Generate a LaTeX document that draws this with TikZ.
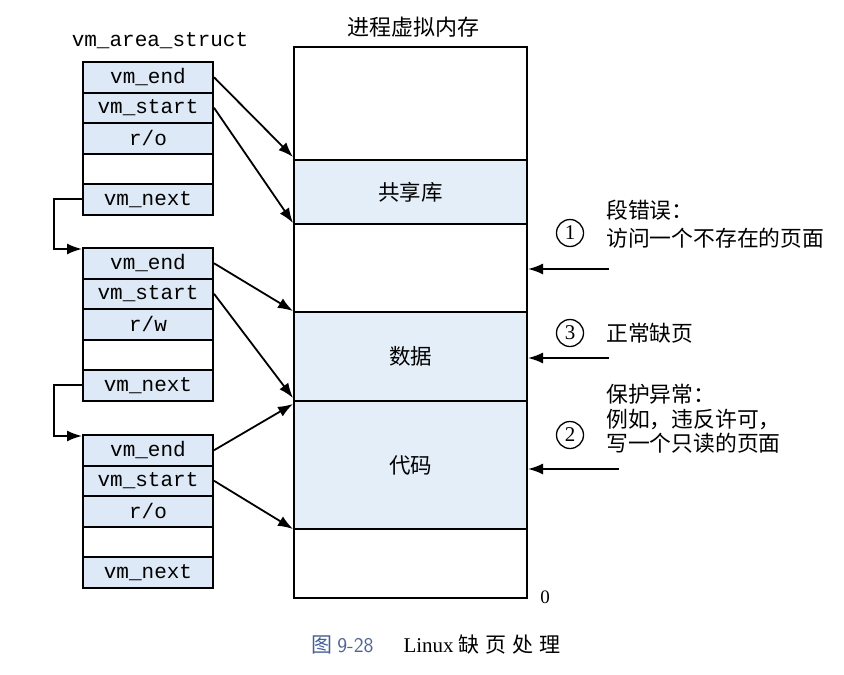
\documentclass[tikz,border=0pt]{standalone}
\usepackage{fontspec}
\setmainfont{Liberation Serif}
\newfontfamily\cjk{Noto Sans CJK SC}
\newfontfamily\mono{Liberation Mono}
\usetikzlibrary{arrows.meta}
\definecolor{rowblue}{RGB}{221,233,246}
\definecolor{memblue}{RGB}{228,238,249}
\definecolor{capblue}{RGB}{70,95,150}
\begin{document}
\begin{tikzpicture}[x=1pt,y=-1pt,
  cell/.style={draw, line width=2pt, minimum width=130pt, minimum height=30.5pt, inner sep=0pt, fill=rowblue, font=\mono\fontsize{21}{24}\selectfont},
  blank/.style={cell, fill=white},
  memsec/.style={draw, line width=2pt, minimum width=233pt, inner sep=0pt, font=\cjk\fontsize{21.5}{24}\selectfont},
  conn/.style={-{Latex[length=15pt,width=11pt]}, line width=1.8pt},
  num/.style={circle, draw, line width=1.3pt, minimum size=27pt, inner sep=0pt, font=\fontsize{21}{24}\selectfont},
  note/.style={anchor=north west, align=left, inner sep=0pt, font=\cjk\fontsize{21.8}{28}\selectfont}
]
\useasboundingbox (0,0) rectangle (844,675);

% labels
\node[font=\mono\fontsize{21}{24}\selectfont] (lbl) at (160,41) {vm\_area\_struct};
\node[font=\cjk\fontsize{22}{24}\selectfont] (title) at (413,27) {进程虚拟内存};

% struct 1
\node[cell] (a1) at (148,77.25) {vm\_end};
\node[cell] (a2) at (148,107.75) {vm\_start};
\node[cell] (a3) at (148,138.25) {r/o};
\node[blank] (a4) at (148,168.75) {};
\node[cell] (a5) at (148,199.25) {vm\_next};
% struct 2
\node[cell] (b1) at (148,263.25) {vm\_end};
\node[cell] (b2) at (148,293.75) {vm\_start};
\node[cell] (b3) at (148,324.25) {r/w};
\node[blank] (b4) at (148,354.75) {};
\node[cell] (b5) at (148,385.25) {vm\_next};
% struct 3
\node[cell] (c1) at (148,450.25) {vm\_end};
\node[cell] (c2) at (148,480.75) {vm\_start};
\node[cell] (c3) at (148,511.25) {r/o};
\node[blank] (c4) at (148,541.75) {};
\node[cell] (c5) at (148,572.25) {vm\_next};

% memory
\node[memsec, minimum height=113pt] (m0) at (410.5,103.5) {};
\node[memsec, minimum height=64pt, fill=memblue] (m1) at (410.5,192) {共享库};
\node[memsec, minimum height=88pt] (m2) at (410.5,268) {};
\node[memsec, minimum height=89pt, fill=memblue] (m3) at (410.5,356.5) {数据};
\node[memsec, minimum height=128pt, fill=memblue] (m4) at (410.5,465) {代码};
\node[memsec, minimum height=69pt] (m5) at (410.5,563.5) {};
\node[font=\fontsize{19}{20}\selectfont] (zero) at (545,597) {0};

% struct -> memory
\draw[conn] (a1.east) -- ([yshift=2pt]m1.north west);
\draw[conn] (a2.east) -- ([yshift=2pt]m1.south west);
\draw[conn] (b1.east) -- (m3.north west);
\draw[conn] (b2.east) -- ([yshift=4pt]m3.south west);
\draw[conn] (c1.east) -- ([yshift=-4pt]m4.north west);
\draw[conn] (c2.east) -- ([yshift=1pt]m4.south west);

% vm_next links
\draw[conn] (a5.west) -- ++(-28,0) |- ([yshift=-2pt]b1.north west);
\draw[conn] (b5.west) -- ++(-28,0) |- ([yshift=-2pt]c1.north west);

% faults
\node[num] (n1) at (570,233) {1};
\node[note] (t1) at (606,200) {段错误：\\访问一个不存在的页面};
\coordinate (f1) at (609,269);
\draw[conn] (f1) -- (f1 -| m2.east);

\node[num] (n3) at (570,333) {3};
\node[note, anchor=west] (t3) at (606,333) {正常缺页};
\coordinate (f3) at (609,358);
\draw[conn] (f3) -- (f3 -| m3.east);

\node[num] (n2) at (570,435) {2};
\node[note, font=\cjk\fontsize{21.8}{24.5}\selectfont] (t2) at (606,384) {保护异常：\\例如，违反许可，\\写一个只读的页面};
\coordinate (f2) at (619,469);
\draw[conn] (f2) -- (f2 -| m4.east);

% caption
\node[font=\fontsize{21}{24}\selectfont] (cap) at (436,645) {{\color{capblue}\cjk 图}\ {\color{capblue!80!gray}\sffamily 9-28}\hspace{30pt}Linux\ {\cjk 缺\hspace{6pt}页\hspace{6pt}处\hspace{6pt}理}};
\end{tikzpicture}
\end{document}
